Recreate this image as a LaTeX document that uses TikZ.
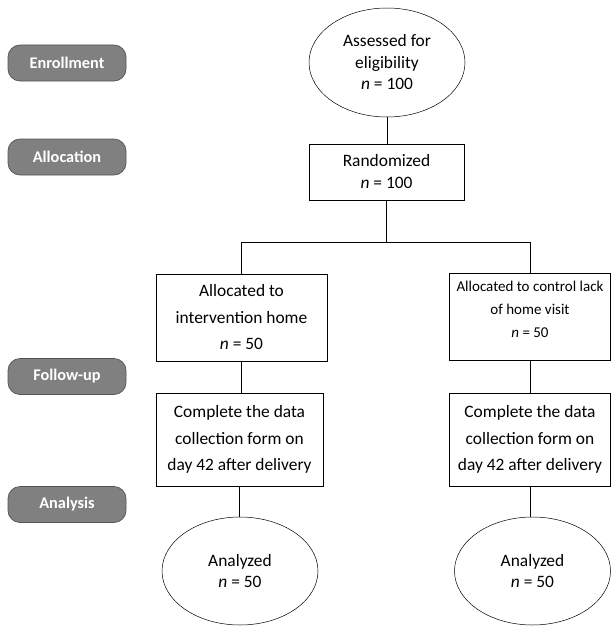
\documentclass[tikz,border=0pt]{standalone}
\usepackage{fontspec}
\setmainfont{Carlito}
\usetikzlibrary{shapes.geometric}
\definecolor{phasegray}{RGB}{128,128,128}
\definecolor{phaseedge}{RGB}{85,85,85}
\newcommand{\nn}{\textit{n}}

\begin{document}
\begin{tikzpicture}[x=1pt, y=-1pt, line width=0.7pt,
    every node/.style={align=center, inner sep=0pt, font=\fontsize{17.4}{21.5}\selectfont},
    phase/.style={draw=phaseedge, fill=phasegray, rounded corners=12pt, minimum width=118pt,
      minimum height=36pt, text=white, font=\fontsize{16.3}{19}\selectfont\bfseries},
    stepbox/.style={draw, font=\fontsize{17.4}{26.5}\selectfont},
    oval/.style={draw, ellipse, line width=0.5pt, minimum width=156pt, minimum height=108pt}]
        \useasboundingbox (0,0) rectangle (611,626);
        % phases on the left
        \node[phase] (enroll) at (67,63) {Enrollment};
        \node[phase] (alloc) at (67,157) {Allocation};
        \node[phase] (follow) at (67,376.5) {Follow-up};
        \node[phase] (analysis) at (67,504.5) {Analysis};
        % flow
        \node[oval, minimum height=109pt] (assess) at (387,62.5) {Assessed for\\eligibility\\\nn{} = 100};
        \node[stepbox, minimum width=155pt, minimum height=56pt, font=\fontsize{17.4}{22}\selectfont] (rand) at (386.5,172) {Randomized\\\nn{} = 100};
        \coordinate (split) at (386.5,242);
        \node[stepbox, minimum width=171pt, minimum height=87pt] (intv) at (241.5,317.5) {Allocated to\\intervention home\\\nn{} = 50};
        \node[stepbox, minimum width=161pt, minimum height=87pt, font=\fontsize{15}{23}\selectfont] (ctrl) at (530,316.5) {Allocated to control lack\\of home visit\\\nn{} = 50\\[-8pt]};
        \node[stepbox, minimum width=167pt, minimum height=93pt] (collL) at (239.5,439.5) {Complete the data\\collection form on\\day 42 after delivery};
        \node[stepbox, minimum width=161pt, minimum height=93pt] (collR) at (530,439.5) {Complete the data\\collection form on\\day 42 after delivery};
        \node[oval] (anaL) at (240,571) {Analyzed\\\nn{} = 50};
        \node[oval] (anaR) at (532.5,571) {Analyzed\\\nn{} = 50};
        % connectors
        \draw (assess.south) -- (assess.south |- rand.north);
        \draw (rand) -- (split);
        \draw (split) -| (intv);
        \draw (split) -| (ctrl);
        \draw (intv) -- (intv |- collL.north);
        \draw (ctrl) -- (ctrl |- collR.north);
        \draw (collL) -- (collL |- anaL.north);
        \draw (collR) -- (collR |- anaR.north);
      \end{tikzpicture}
\end{document}
